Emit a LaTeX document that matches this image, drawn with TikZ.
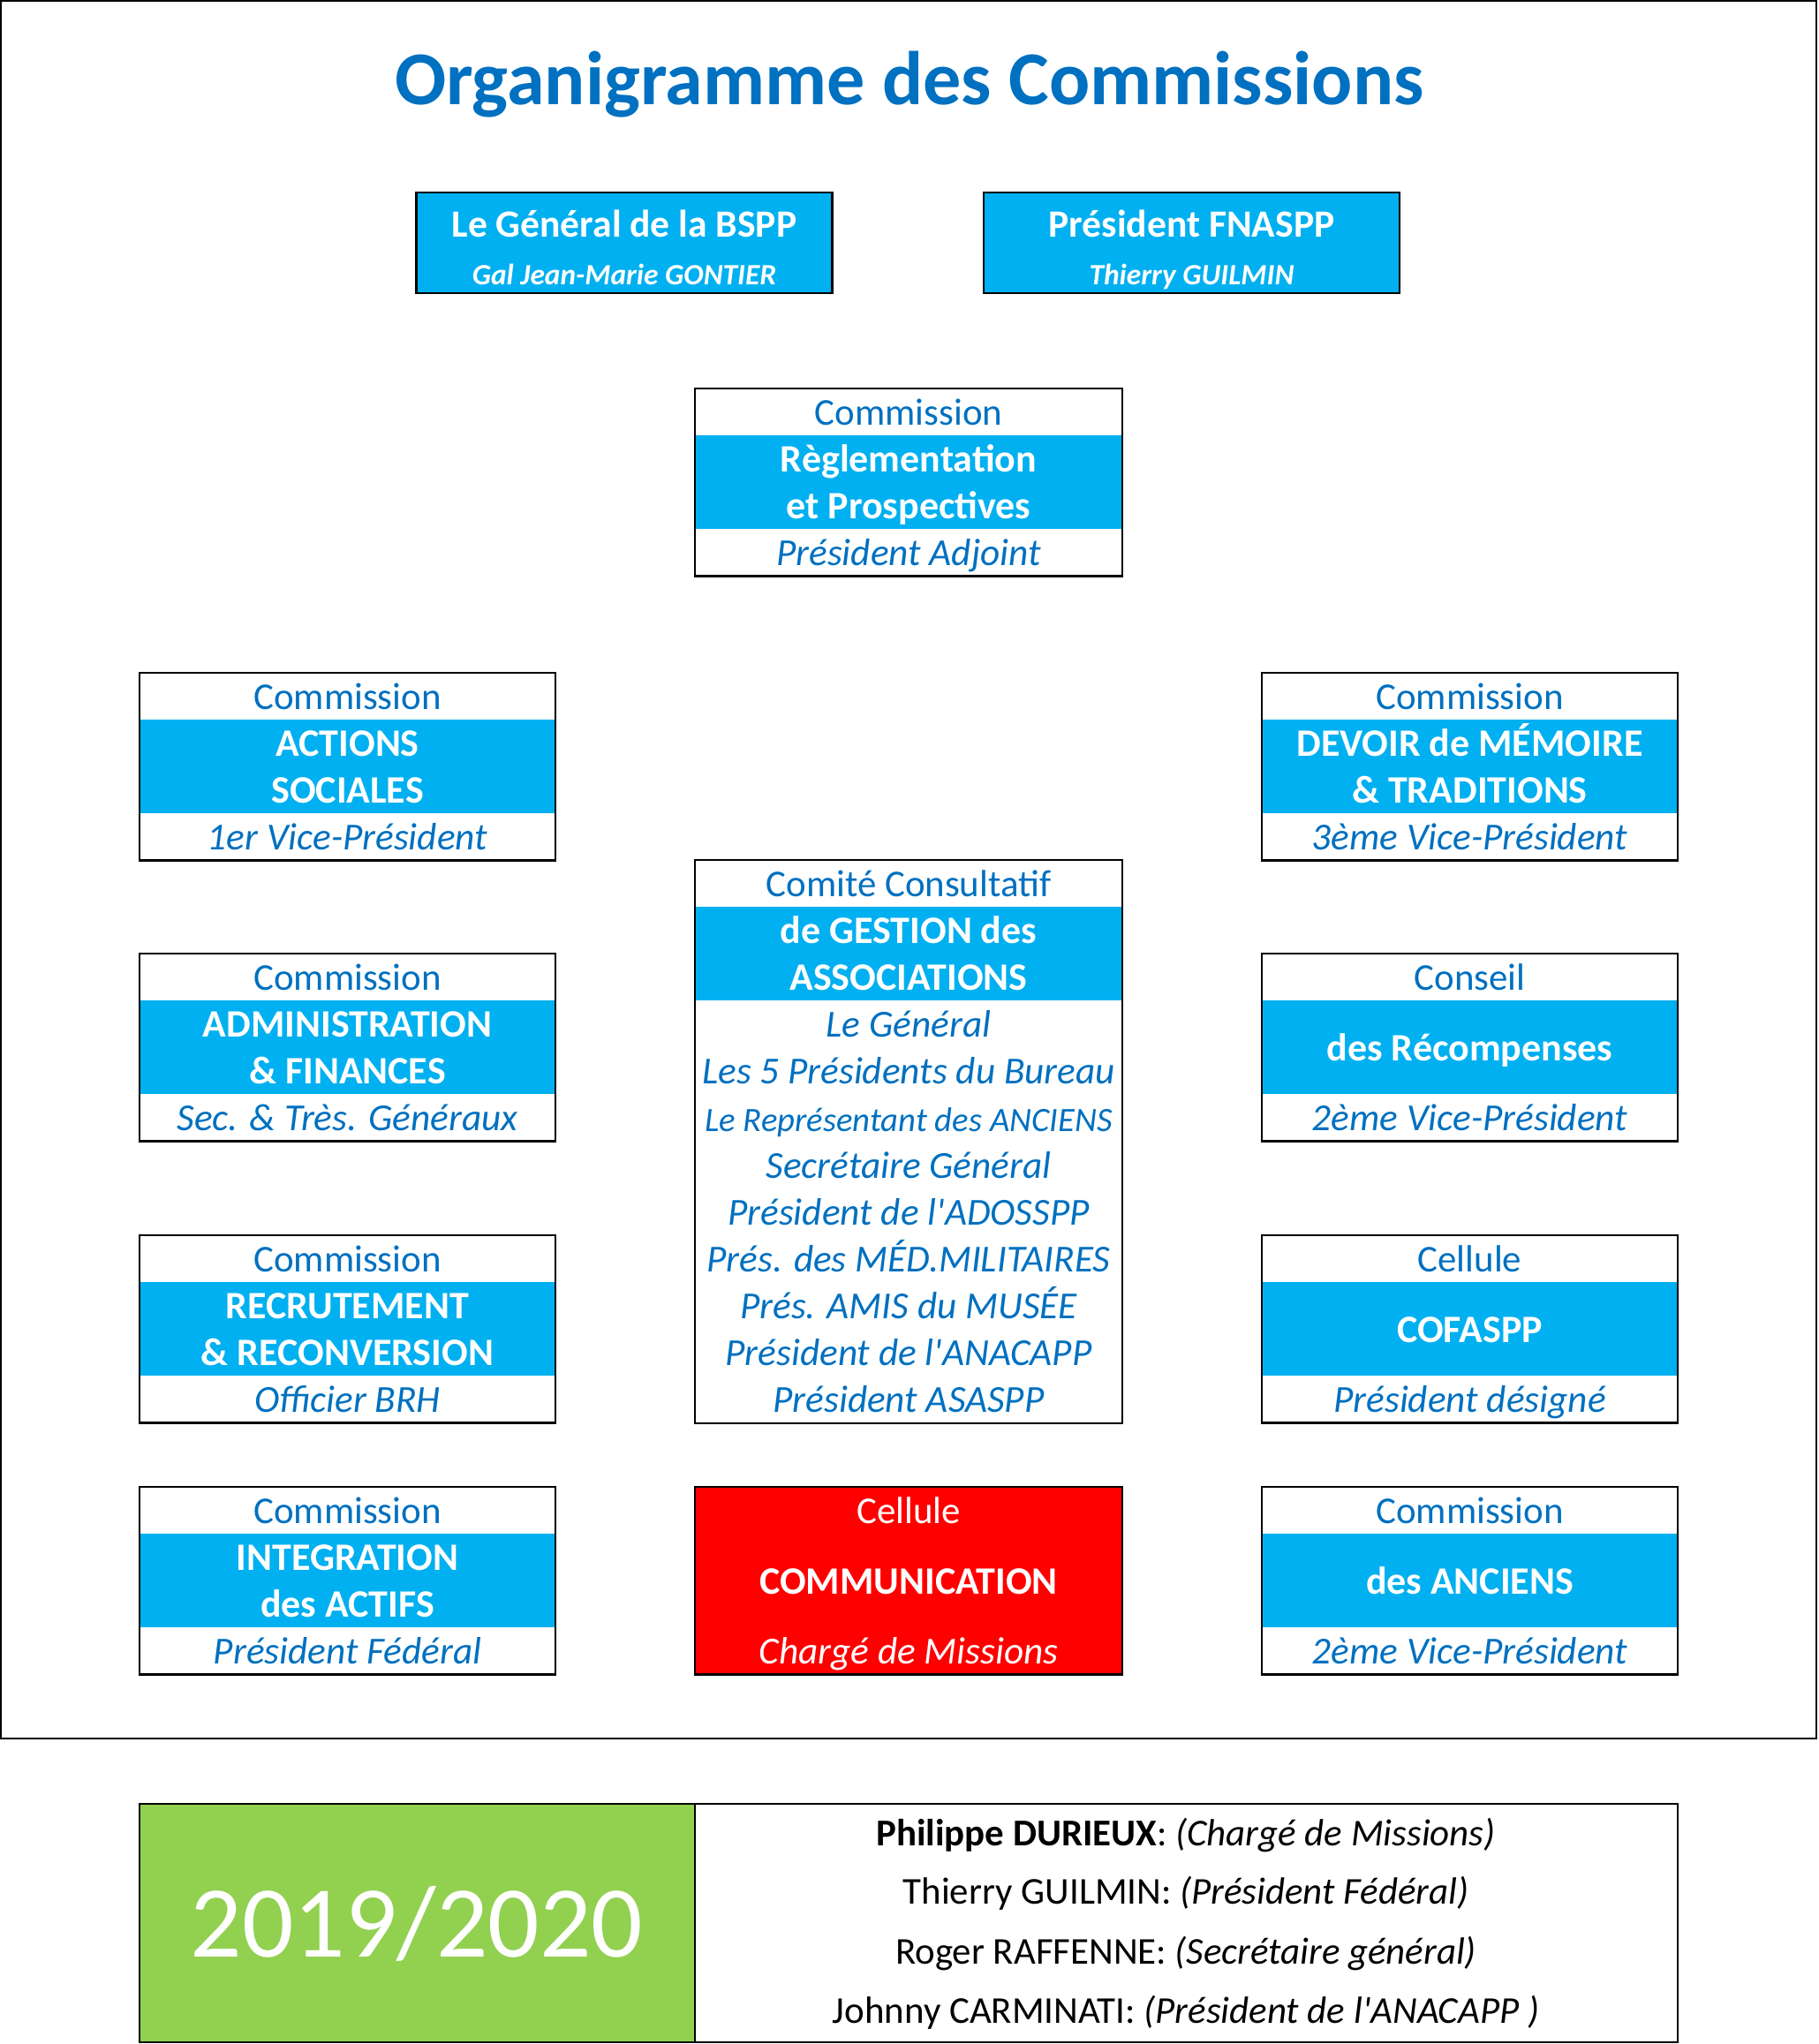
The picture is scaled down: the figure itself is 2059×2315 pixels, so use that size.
\documentclass[tikz,border=0pt]{standalone}
\usepackage{fontspec}
\setmainfont{Carlito}
\definecolor{orgblue}{HTML}{00B0F0}
\definecolor{txtblue}{HTML}{0070C0}
\definecolor{orgred}{HTML}{FF0000}
\definecolor{orggreen}{HTML}{92D050}
\newcommand{\apos}{\textquotesingle}
\tikzset{
  boxline/.style={draw=black, line width=0.75pt},
  boxtext/.style={anchor=base, inner sep=0pt},
  toptext/.style={boxtext, text=txtblue, font=\fontsize{12.2}{15}\selectfont},
  midtext/.style={boxtext, text=white, font=\fontsize{12.5}{15}\selectfont\bfseries},
  bottext/.style={boxtext, text=txtblue, font=\fontsize{12.3}{15}\selectfont\itshape},
}
\begin{document}
\begin{tikzpicture}[x=0.01cm, y=-0.01cm]
  \useasboundingbox (0,0) rectangle (2059,2315);
  \draw[boxline] (1,1) rectangle (2057,1969);
  \node[boxtext, text=txtblue, font=\fontsize{24.5}{30}\selectfont\bfseries] (title) at (1030,118) {Organigramme des Commissions};

  % tutelles
  \foreach \nm/\cx/\la/\lb in {
      bspp/707/Le Général de la BSPP/Gal Jean-Marie GONTIER,
      fna/1349.5/Président FNASPP/Thierry GUILMIN
  } {
    \begin{scope}[shift={(\cx,218)}]
      \fill[orgblue] (-235.5,0) rectangle (235.5,114);
      \draw[boxline] (-235.5,0) rectangle (235.5,114);
      \node[midtext, font=\fontsize{12.4}{15}\selectfont\bfseries] (\nm-a) at (0,50) {\la};
      \node[midtext, font=\fontsize{9.5}{12}\selectfont\bfseries\itshape] (\nm-b) at (0,104) {\lb};
    \end{scope}
  }

  % commissions, titre sur deux lignes
  \foreach \nm/\cx/\ty/\w/\ta/\ma/\mb/\ba in {
      regl/1029/440/484/Commission/Règlementation/et Prospectives/Président Adjoint,
      soc/393.5/762/471/Commission/ACTIONS/SOCIALES/1er Vice-Président,
      adm/393.5/1080/471/Commission/ADMINISTRATION/\& FINANCES/Sec. \& Très. Généraux,
      recr/393.5/1399/471/Commission/RECRUTEMENT/\& RECONVERSION/Officier BRH,
      integ/393.5/1684/471/Commission/INTEGRATION/des ACTIFS/Président Fédéral,
      mem/1664.5/762/471/Commission/DEVOIR de MÉMOIRE/\& TRADITIONS/3ème Vice-Président
  } {
    \begin{scope}[shift={(\cx,\ty)}]
      \pgfmathsetmacro{\hw}{\w/2}
      \fill[orgblue] (-\hw,53.15) rectangle (\hw,159.45);
      \draw[boxline] (-\hw,0) rectangle (\hw,212.6);
      \node[toptext] (\nm-t) at (0,41.3) {\ta};
      \node[midtext] (\nm-m1) at (0,94.5) {\ma};
      \node[midtext] (\nm-m2) at (0,147.6) {\mb};
      \node[bottext] (\nm-b) at (0,200.8) {\ba};
    \end{scope}
  }

  % titre sur une ligne
  \foreach \nm/\ty/\ta/\ma/\ba in {
      recomp/1080/Conseil/des Récompenses/2ème Vice-Président,
      cofa/1399/Cellule/COFASPP/Président désigné,
      anc/1684/Commission/des ANCIENS/2ème Vice-Président
  } {
    \begin{scope}[shift={(1664.5,\ty)}]
      \fill[orgblue] (-235.5,53.15) rectangle (235.5,159.45);
      \draw[boxline] (-235.5,0) rectangle (235.5,212.6);
      \node[toptext] (\nm-t) at (0,41.3) {\ta};
      \node[midtext] (\nm-m) at (0,121.05) {\ma};
      \node[bottext] (\nm-b) at (0,200.8) {\ba};
    \end{scope}
  }

  % comite consultatif
  \begin{scope}[shift={(1029,974)}]
    \fill[orgblue] (-242,53.15) rectangle (242,159.45);
    \draw[boxline] (-242,0) rectangle (242,638);
    \node[toptext] (cc-t) at (0,41.3) {Comité Consultatif};
    \node[midtext] (cc-m1) at (0,94.5) {de GESTION des};
    \node[midtext] (cc-m2) at (0,147.6) {ASSOCIATIONS};
    \foreach \k/\sz/\txt in {
        4/12.3/Le Général, 5/12.3/Les 5 Présidents du Bureau,
        6/11.0/Le Représentant des ANCIENS, 7/12.3/Secrétaire Général,
        8/12.3/Président de l\apos ADOSSPP, 9/12.3/Prés. des MÉD.MILITAIRES,
        10/12.3/Prés. AMIS du MUSÉE, 11/12.3/Président de l\apos ANACAPP,
        12/12.3/Président ASASPP
    } {
      \node[bottext, font=\fontsize{\sz}{15}\selectfont\itshape] (cc-\k) at (0,{(\k-0.5)*53.15+14.75}) {\txt};
    }
  \end{scope}

  % cellule communication
  \begin{scope}[shift={(1029,1684)}]
    \fill[orgred] (-242,0) rectangle (242,212.6);
    \draw[boxline] (-242,0) rectangle (242,212.6);
    \node[toptext, text=white] (com-t) at (0,41.3) {Cellule};
    \node[midtext] (com-m) at (0,121.05) {COMMUNICATION};
    \node[bottext, text=white] (com-b) at (0,200.8) {Chargé de Missions};
  \end{scope}

  % bandeau du bas
  \fill[orggreen] (158,2043) rectangle (787,2313);
  \draw[boxline] (158,2043) rectangle (1900,2313);
  \draw[boxline] (787,2043) -- (787,2313);
  \node[boxtext, text=white, font=\fontsize{32.8}{40}\selectfont] (year) at (472,2216.7) {2019/2020};
  \foreach \k/\yb/\txt in {
      1/2090/{\textbf{Philippe DURIEUX}: \textit{(Chargé de Missions)}},
      2/2156.7/{Thierry GUILMIN: \textit{(Président Fédéral)}},
      3/2224/{Roger RAFFENNE: \textit{(Secrétaire général)}},
      4/2291.7/{Johnny CARMINATI: \textit{(Président de l\apos ANACAPP )}}
  } {
    \node[boxtext, font=\fontsize{12.2}{15}\selectfont] (membre-\k) at (1343,\yb) {\txt};
  }
\end{tikzpicture}
\end{document}
